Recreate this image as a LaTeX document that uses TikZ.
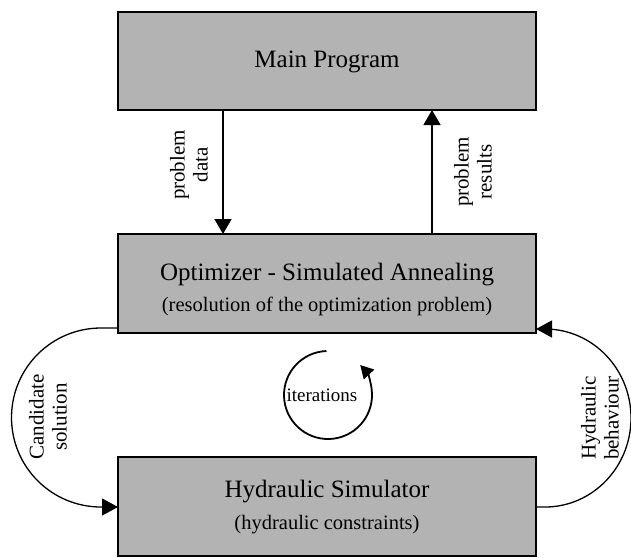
\documentclass[tikz,border=0pt]{standalone}
\usepackage{fontspec}
\setmainfont{Liberation Serif}
\usetikzlibrary{arrows.meta}
\definecolor{boxgray}{RGB}{179,179,179}
\tikzset{
  blockbox/.style={draw=black, line width=1.7pt, fill=boxgray, minimum width=418pt, minimum height=98pt, inner sep=0pt, outer sep=0pt},
  titletext/.style={anchor=base, font=\fontsize{25}{30}\selectfont, inner sep=0pt},
  subtext/.style={anchor=base, font=\fontsize{20.5}{24}\selectfont, inner sep=0pt},
  sidelabel/.style={rotate=90, align=center, font=\fontsize{21}{23}\selectfont, inner sep=0pt},
  flow/.style={line width=1.5pt, -{Triangle[length=15pt,width=17pt]}},
  loopflow/.style={line width=1.3pt, -{Triangle[length=16pt,width=17pt]}},
  iterflow/.style={line width=1.8pt, -{Triangle[length=13pt,width=14pt]}}
}
\begin{document}
\begin{tikzpicture}[x=1pt,y=1pt]
\useasboundingbox (0,0) rectangle (631,-557);
% boxes
\node[blockbox] (main) at (327,-61) {};
\node[blockbox, minimum height=99pt] (opt) at (327,-283.5) {};
\node[blockbox, minimum height=99pt] (hyd) at (327,-506.5) {};
% texts
\node[titletext] (maint) at (327,-67) {Main Program};
\node[titletext] (optt) at (327,-280) {Optimizer - Simulated Annealing};
\node[subtext] (opts) at (327,-311) {(resolution of the optimization problem)};
\node[titletext] (hydt) at (327,-497) {Hydraulic Simulator};
\node[subtext] (hyds) at (327,-529) {(hydraulic constraints)};
% vertical arrows
\coordinate (pd) at (223,0);
\coordinate (pr) at (432,0);
\draw[flow] (main.south -| pd) -- (opt.north -| pd);
\draw[flow] (opt.north -| pr) -- (main.south -| pr);
\node[sidelabel] (pdl) at (189,-165) {problem\\data};
\node[sidelabel] (prl) at (473,-172) {problem\\results};
% loop arrows
\coordinate (cs1) at (0,-328);
\coordinate (cs2) at (0,-507);
\draw[loopflow] (opt.west |- cs1) -- (101,-328) arc[start angle=90, end angle=270, radius=89.5] -- (hyd.west |- cs2);
\draw[loopflow] (hyd.east |- cs2) -- (545,-507) arc[start angle=-90, end angle=90, x radius=86, y radius=89] -- (opt.east |- 0,-329);
\node[sidelabel] (csl) at (48,-417) {Candidate\\solution};
\node[sidelabel] (hbl) at (600,-418) {Hydraulic\\behaviour};
% iterations
\node[font=\fontsize{19}{22}\selectfont, inner sep=0pt] (iter) at (322,-395) {iterations};
\coordinate (ic) at (328,-395);
\draw[iterflow] ([shift={(92:44)}]ic) arc[start angle=92, end angle=403, radius=44];
\end{tikzpicture}
\end{document}
